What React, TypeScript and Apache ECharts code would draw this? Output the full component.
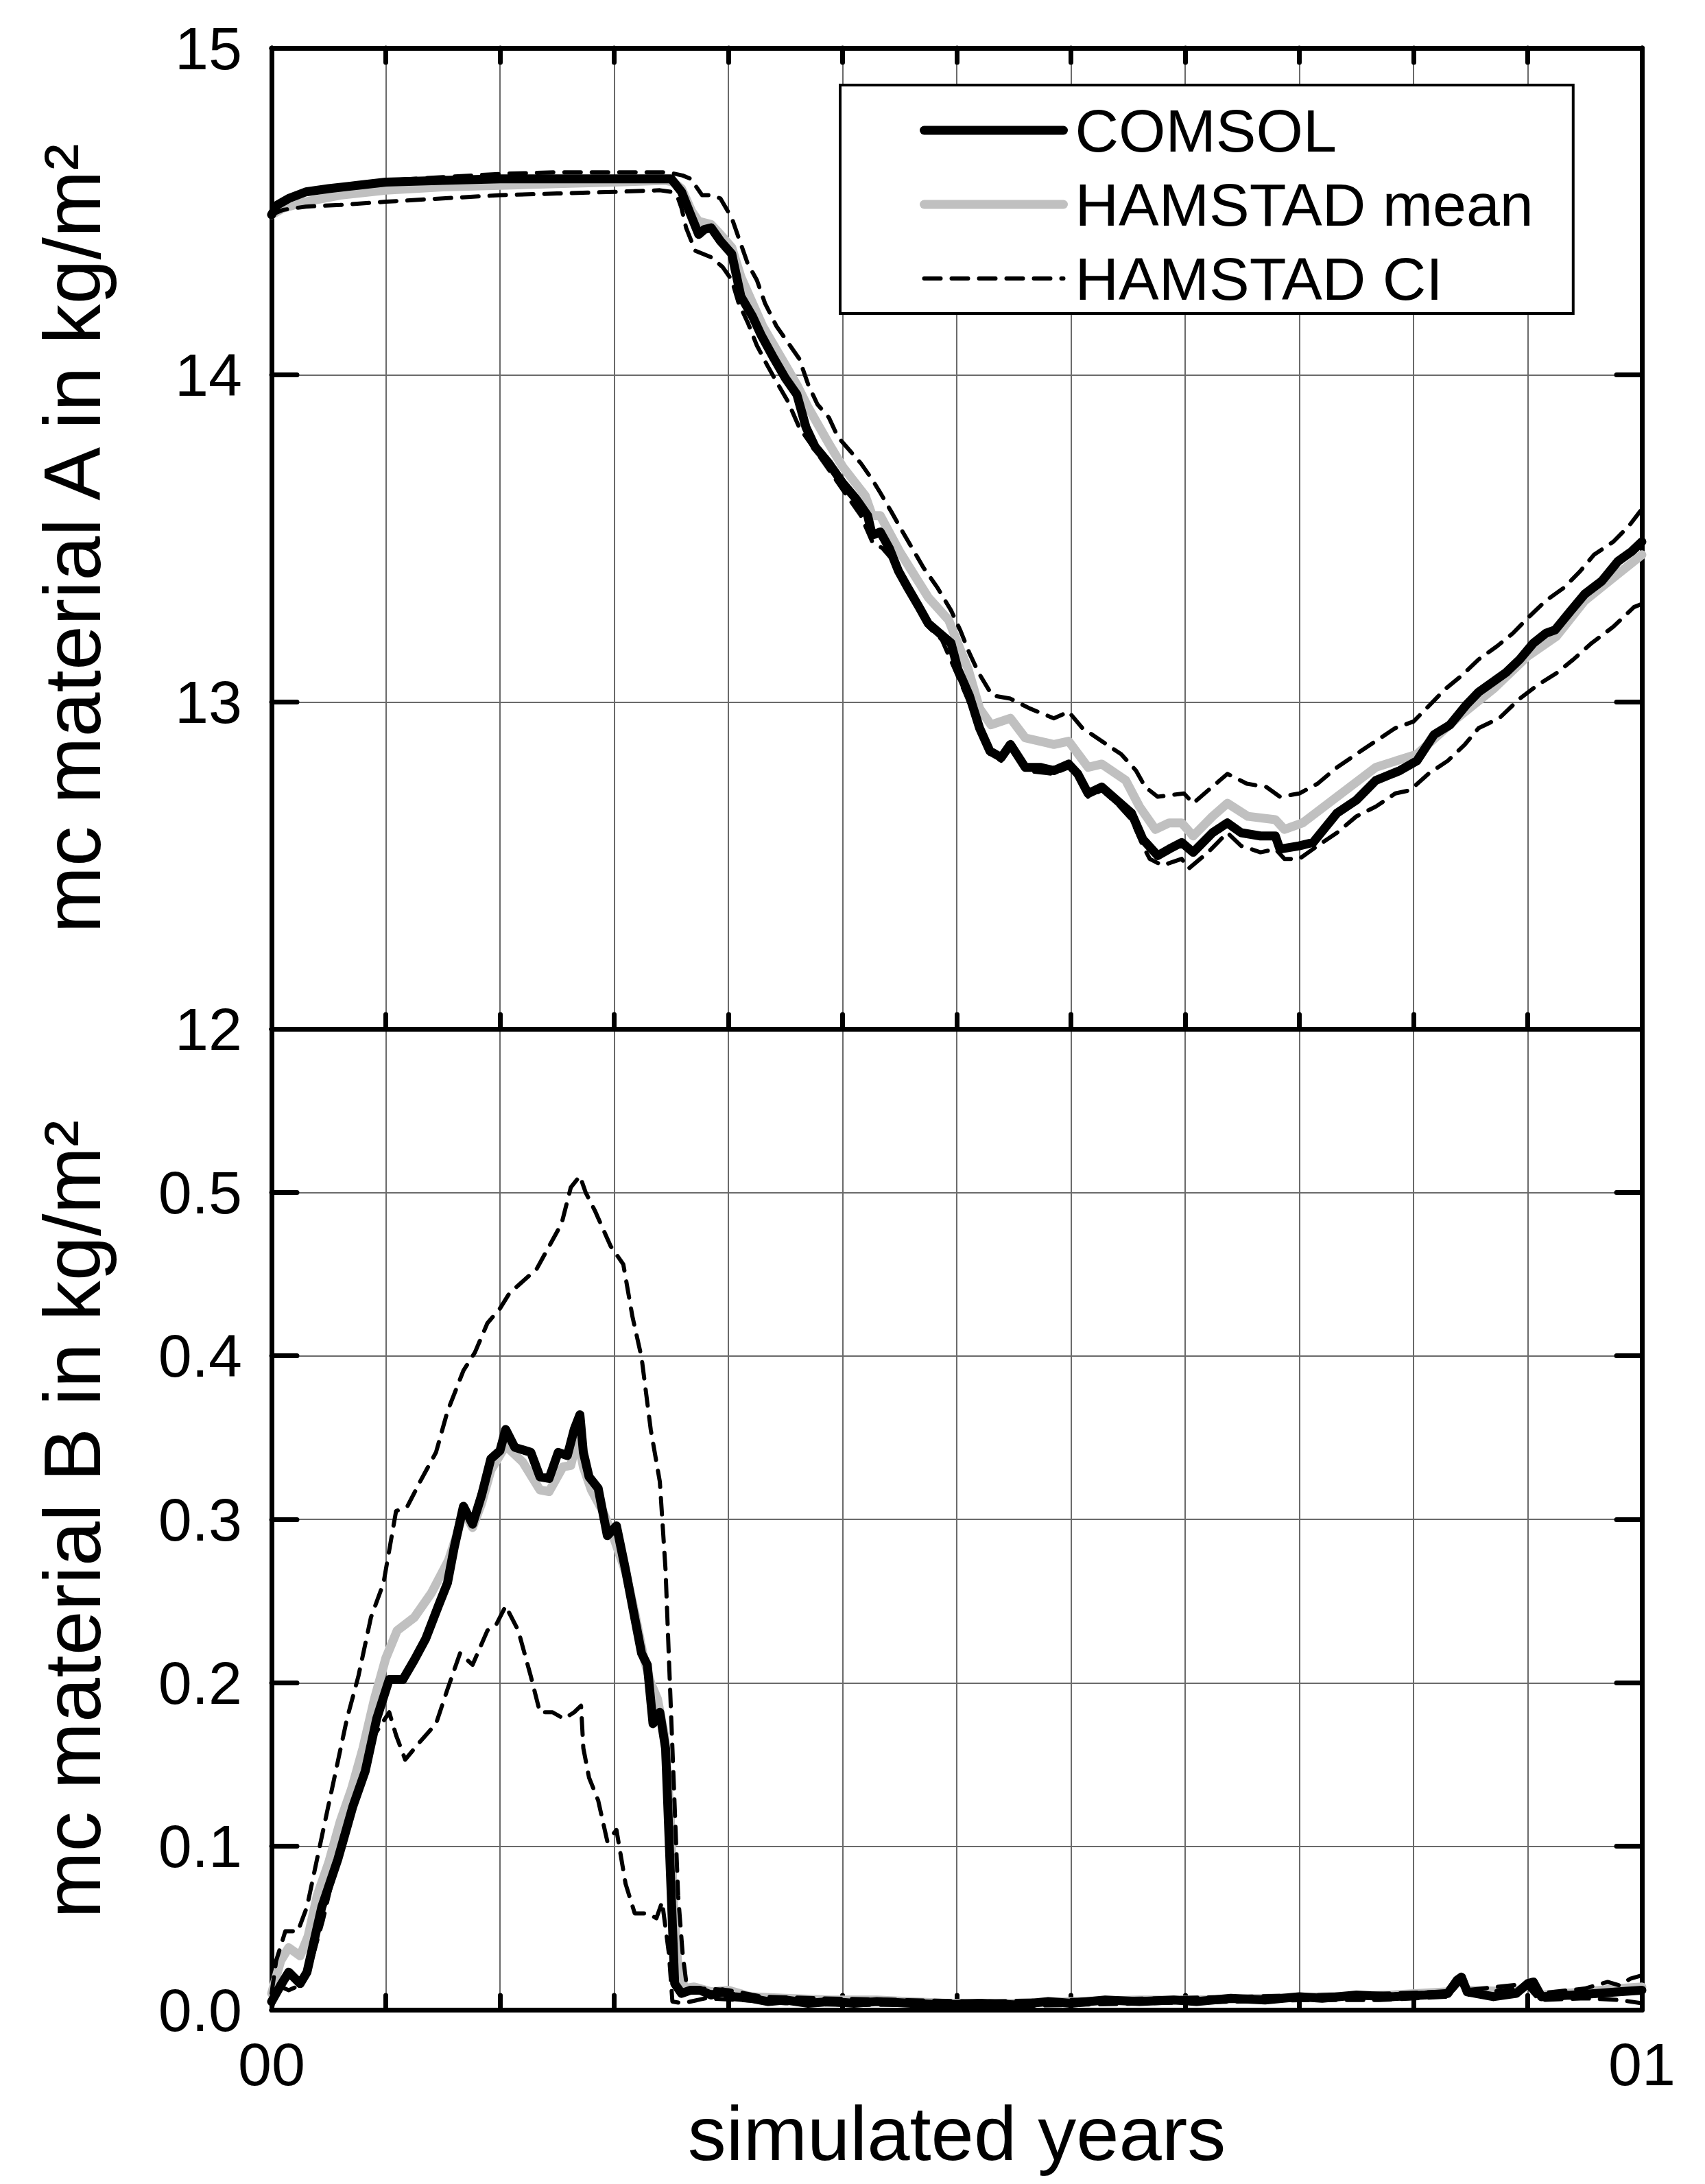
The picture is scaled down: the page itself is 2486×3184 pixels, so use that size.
import React, { useEffect, useRef } from 'react';
import * as echarts from 'echarts';

type Pt = [number, number];

// x values are months of the simulated year (0 .. 12)
const xEndLabels: Record<number, string> = { 0: '00', 12: '01' };
const seriesNames = ['COMSOL', 'HAMSTAD mean', 'HAMSTAD CI'];

// ---------- material A (top panel) ----------
const comsolA: Pt[] = [
  [0, 14.49], [0.05, 14.52], [0.15, 14.54], [0.3, 14.56], [0.5, 14.57], [0.75, 14.58], [1.0, 14.59],
  [1.5, 14.595], [2.0, 14.6], [2.5, 14.6], [3.0, 14.6], [3.5, 14.6],
  [3.59, 14.56], [3.67, 14.49], [3.74, 14.43], [3.79, 14.445], [3.85, 14.45], [3.93, 14.41], [4.03, 14.37],
  [4.11, 14.24], [4.21, 14.18], [4.29, 14.12], [4.4, 14.05], [4.5, 13.99], [4.6, 13.94], [4.68, 13.84],
  [4.76, 13.78], [4.88, 13.73], [5.0, 13.67], [5.12, 13.62], [5.22, 13.57], [5.26, 13.51], [5.33, 13.52],
  [5.41, 13.47], [5.49, 13.4], [5.57, 13.35], [5.67, 13.29], [5.75, 13.24], [5.85, 13.21], [5.95, 13.18],
  [6.01, 13.1], [6.11, 13.02], [6.2, 12.92], [6.29, 12.85], [6.39, 12.83], [6.47, 12.87], [6.6, 12.8],
  [6.73, 12.8], [6.85, 12.79], [6.98, 12.81], [7.06, 12.78], [7.15, 12.72], [7.27, 12.74], [7.4, 12.7],
  [7.53, 12.66], [7.63, 12.58], [7.76, 12.53], [7.86, 12.55], [7.97, 12.57], [8.07, 12.54], [8.24, 12.6],
  [8.37, 12.63], [8.49, 12.6], [8.66, 12.59], [8.79, 12.59], [8.83, 12.55], [9.0, 12.56], [9.12, 12.57],
  [9.33, 12.66], [9.5, 12.7], [9.67, 12.76], [9.88, 12.79], [10.03, 12.82], [10.18, 12.9], [10.32, 12.93],
  [10.46, 12.99], [10.57, 13.03], [10.69, 13.06], [10.81, 13.09], [10.93, 13.13], [11.05, 13.18],
  [11.16, 13.21], [11.24, 13.22], [11.38, 13.28], [11.5, 13.33], [11.65, 13.37], [11.79, 13.43],
  [11.91, 13.46], [12, 13.49],
];

const meanA: Pt[] = [
  [0, 14.49], [0.1, 14.51], [0.3, 14.53], [0.6, 14.55], [1.0, 14.565], [1.5, 14.575], [2.0, 14.58],
  [2.5, 14.585], [3.0, 14.59], [3.45, 14.595], [3.52, 14.59], [3.59, 14.57], [3.68, 14.5], [3.74, 14.47],
  [3.85, 14.46], [3.93, 14.43], [4.03, 14.39], [4.11, 14.3], [4.3, 14.15], [4.5, 14.03], [4.6, 13.97],
  [4.7, 13.9], [4.88, 13.79], [5.0, 13.72], [5.2, 13.63], [5.26, 13.57], [5.33, 13.57], [5.5, 13.46],
  [5.75, 13.32], [5.93, 13.25], [6.02, 13.17], [6.1, 13.1], [6.2, 12.98], [6.3, 12.93], [6.47, 12.95],
  [6.6, 12.89], [6.85, 12.87], [6.98, 12.88], [7.15, 12.8], [7.27, 12.81], [7.48, 12.76], [7.6, 12.68],
  [7.74, 12.61], [7.86, 12.63], [7.97, 12.63], [8.07, 12.59], [8.24, 12.65], [8.37, 12.69], [8.55, 12.65],
  [8.79, 12.64], [8.87, 12.61], [9.03, 12.63], [9.33, 12.71], [9.67, 12.8], [10.03, 12.84], [10.38, 12.95],
  [10.7, 13.04], [11.0, 13.14], [11.25, 13.2], [11.5, 13.31], [11.75, 13.38], [12, 13.45],
];

const ciUpperA: Pt[] = [
  [0, 14.49], [0.1, 14.53], [0.3, 14.56], [0.6, 14.58], [1.0, 14.595], [1.5, 14.605], [2.0, 14.615],
  [2.5, 14.62], [3.0, 14.62], [3.47, 14.62], [3.6, 14.61], [3.67, 14.6], [3.77, 14.55], [3.85, 14.55],
  [3.93, 14.54], [4.03, 14.48], [4.09, 14.42], [4.17, 14.34], [4.25, 14.29], [4.32, 14.22], [4.42, 14.15],
  [4.52, 14.1], [4.62, 14.05], [4.7, 13.97], [4.78, 13.91], [4.88, 13.87], [4.96, 13.81], [5.06, 13.77],
  [5.16, 13.73], [5.26, 13.68], [5.33, 13.64], [5.43, 13.58], [5.51, 13.53], [5.61, 13.47], [5.71, 13.41],
  [5.83, 13.35], [5.95, 13.28], [6.03, 13.22], [6.11, 13.15], [6.19, 13.09], [6.31, 13.02], [6.47, 13.01],
  [6.64, 12.98], [6.85, 12.95], [6.98, 12.97], [7.1, 12.92], [7.27, 12.88], [7.44, 12.84], [7.57, 12.79],
  [7.65, 12.74], [7.76, 12.71], [7.99, 12.72], [8.07, 12.69], [8.37, 12.78], [8.54, 12.75], [8.71, 12.74],
  [8.83, 12.71], [9.0, 12.72], [9.16, 12.75], [9.33, 12.8], [9.54, 12.85], [9.84, 12.92], [10.0, 12.94],
  [10.14, 12.99], [10.28, 13.04], [10.42, 13.08], [10.57, 13.13], [10.73, 13.17], [10.87, 13.21],
  [11.01, 13.26], [11.16, 13.31], [11.32, 13.35], [11.46, 13.4], [11.58, 13.45], [11.75, 13.49],
  [11.89, 13.54], [12, 13.59],
];

const ciLowerA: Pt[] = [
  [0, 14.49], [0.1, 14.505], [0.3, 14.515], [0.6, 14.52], [1.0, 14.53], [1.5, 14.54], [2.0, 14.55],
  [2.5, 14.555], [3.0, 14.56], [3.4, 14.565], [3.5, 14.56], [3.56, 14.54], [3.59, 14.51], [3.63, 14.45],
  [3.71, 14.38], [3.85, 14.36], [3.95, 14.33], [4.03, 14.29], [4.09, 14.22], [4.17, 14.16], [4.25, 14.09],
  [4.34, 14.03], [4.42, 13.98], [4.52, 13.92], [4.62, 13.84], [4.72, 13.79], [4.84, 13.73], [4.96, 13.67],
  [5.06, 13.62], [5.16, 13.57], [5.26, 13.49], [5.35, 13.47], [5.45, 13.43], [5.55, 13.36], [5.65, 13.29],
  [5.75, 13.23], [5.87, 13.19], [5.97, 13.11], [6.07, 13.03], [6.19, 12.93], [6.29, 12.84], [6.39, 12.82],
  [6.47, 12.86], [6.6, 12.79], [6.85, 12.78], [6.98, 12.8], [7.06, 12.77], [7.15, 12.71], [7.27, 12.73],
  [7.4, 12.69], [7.53, 12.64], [7.63, 12.56], [7.69, 12.52], [7.8, 12.5], [7.97, 12.52], [8.03, 12.49],
  [8.2, 12.54], [8.37, 12.6], [8.49, 12.56], [8.66, 12.54], [8.79, 12.55], [8.87, 12.52], [9.0, 12.52],
  [9.16, 12.56], [9.33, 12.6], [9.5, 12.65], [9.67, 12.68], [9.84, 12.72], [9.97, 12.73], [10.13, 12.78],
  [10.3, 12.82], [10.45, 12.87], [10.57, 12.92], [10.75, 12.95], [10.93, 13.01], [11.08, 13.05],
  [11.26, 13.09], [11.4, 13.13], [11.56, 13.18], [11.75, 13.23], [11.93, 13.29], [12, 13.3],
];

// ---------- material B (bottom panel) ----------
const comsolB: Pt[] = [
  [0, 0.005], [0.08, 0.015], [0.15, 0.023], [0.25, 0.016], [0.31, 0.023], [0.44, 0.063], [0.58, 0.092],
  [0.71, 0.124], [0.82, 0.146], [0.92, 0.178], [1.03, 0.202], [1.15, 0.202], [1.25, 0.214], [1.35, 0.227],
  [1.46, 0.247], [1.54, 0.261], [1.6, 0.283], [1.68, 0.308], [1.76, 0.297], [1.84, 0.315], [1.92, 0.337],
  [2.0, 0.342], [2.05, 0.355], [2.13, 0.344], [2.27, 0.341], [2.35, 0.326], [2.43, 0.325], [2.51, 0.341],
  [2.59, 0.339], [2.65, 0.355], [2.7, 0.364], [2.73, 0.341], [2.78, 0.326], [2.86, 0.319], [2.94, 0.29],
  [3.02, 0.296], [3.1, 0.269], [3.16, 0.247], [3.24, 0.218], [3.29, 0.211], [3.34, 0.175], [3.4, 0.182],
  [3.45, 0.16], [3.48, 0.106], [3.51, 0.052], [3.53, 0.016], [3.59, 0.01], [3.67, 0.012], [3.75, 0.012],
  [3.85, 0.009], [3.95, 0.011], [4.05, 0.008], [4.2, 0.007], [4.35, 0.005], [4.5, 0.006], [4.7, 0.004],
  [4.9, 0.005], [5.1, 0.004], [5.3, 0.005], [5.6, 0.004], [5.9, 0.003], [6.2, 0.004], [6.5, 0.003],
  [6.8, 0.005], [7.0, 0.004], [7.3, 0.006], [7.6, 0.005], [7.9, 0.006], [8.1, 0.005], [8.4, 0.007],
  [8.7, 0.006], [9.0, 0.008], [9.2, 0.007], [9.5, 0.009], [9.8, 0.008], [10.1, 0.009], [10.3, 0.01],
  [10.38, 0.018], [10.42, 0.02], [10.47, 0.011], [10.7, 0.008], [10.9, 0.01], [11.0, 0.016], [11.05, 0.017],
  [11.12, 0.008], [11.4, 0.009], [11.6, 0.01], [11.8, 0.011], [12, 0.012],
];

const meanB: Pt[] = [
  [0, 0.01], [0.08, 0.03], [0.15, 0.038], [0.25, 0.033], [0.32, 0.045], [0.4, 0.07], [0.5, 0.09],
  [0.6, 0.115], [0.7, 0.135], [0.8, 0.16], [0.9, 0.19], [1.0, 0.215], [1.1, 0.232], [1.25, 0.24],
  [1.4, 0.255], [1.55, 0.275], [1.62, 0.29], [1.68, 0.305], [1.76, 0.295], [1.84, 0.31], [1.92, 0.33],
  [2.05, 0.345], [2.2, 0.335], [2.35, 0.318], [2.43, 0.317], [2.55, 0.332], [2.62, 0.333], [2.68, 0.35],
  [2.73, 0.332], [2.8, 0.318], [2.9, 0.305], [3.0, 0.288], [3.1, 0.268], [3.18, 0.243], [3.26, 0.215],
  [3.32, 0.2], [3.38, 0.19], [3.44, 0.168], [3.49, 0.12], [3.52, 0.065], [3.56, 0.025], [3.62, 0.013],
  [3.7, 0.014], [3.85, 0.011], [4.0, 0.012], [4.2, 0.008], [4.5, 0.007], [4.9, 0.006], [5.3, 0.006],
  [5.9, 0.004], [6.5, 0.004], [7.0, 0.005], [7.6, 0.006], [8.1, 0.006], [8.7, 0.007], [9.2, 0.008],
  [9.8, 0.009], [10.3, 0.011], [10.41, 0.019], [10.47, 0.012], [10.9, 0.011], [11.03, 0.016],
  [11.12, 0.009], [11.5, 0.011], [11.8, 0.013], [12, 0.014],
];

const ciUpperB: Pt[] = [
  [0, 0.01], [0.04, 0.03], [0.12, 0.048], [0.23, 0.048], [0.31, 0.063], [0.44, 0.106], [0.55, 0.142],
  [0.66, 0.178], [0.76, 0.204], [0.87, 0.24], [0.98, 0.261], [1.09, 0.305], [1.19, 0.308], [1.3, 0.323],
  [1.44, 0.341], [1.54, 0.366], [1.68, 0.391], [1.78, 0.402], [1.89, 0.42], [2.0, 0.429], [2.08, 0.438],
  [2.19, 0.445], [2.32, 0.453], [2.43, 0.467], [2.54, 0.481], [2.62, 0.503], [2.7, 0.51], [2.75, 0.5],
  [2.83, 0.489], [2.97, 0.467], [3.08, 0.456], [3.16, 0.424], [3.24, 0.399], [3.32, 0.355], [3.4, 0.323],
  [3.45, 0.269], [3.48, 0.214], [3.52, 0.142], [3.56, 0.07], [3.6, 0.034], [3.64, 0.012], [3.8, 0.013],
  [4.0, 0.012], [4.3, 0.008], [4.8, 0.007], [5.5, 0.006], [6.2, 0.005], [7.0, 0.006], [7.8, 0.007],
  [8.5, 0.008], [9.2, 0.009], [9.8, 0.01], [10.3, 0.011], [10.41, 0.019], [10.47, 0.012], [11.0, 0.016],
  [11.1, 0.01], [11.5, 0.013], [11.7, 0.017], [11.8, 0.015], [11.9, 0.019], [12, 0.021],
];

const ciLowerB: Pt[] = [
  [0, 0.0], [0.05, 0.015], [0.15, 0.012], [0.25, 0.015], [0.35, 0.03], [0.45, 0.055], [0.55, 0.085],
  [0.66, 0.11], [0.79, 0.142], [0.9, 0.168], [1.03, 0.182], [1.09, 0.168], [1.17, 0.153], [1.3, 0.164],
  [1.44, 0.175], [1.54, 0.196], [1.65, 0.218], [1.76, 0.211], [1.89, 0.232], [1.97, 0.236], [2.05, 0.247],
  [2.16, 0.232], [2.27, 0.204], [2.35, 0.182], [2.46, 0.182], [2.56, 0.178], [2.65, 0.182], [2.71, 0.186],
  [2.73, 0.16], [2.78, 0.142], [2.86, 0.128], [2.94, 0.103], [3.02, 0.11], [3.1, 0.077], [3.18, 0.059],
  [3.29, 0.059], [3.37, 0.056], [3.42, 0.066], [3.48, 0.034], [3.51, 0.005], [3.6, 0.004], [3.8, 0.007],
  [4.1, 0.006], [4.5, 0.004], [5.0, 0.003], [5.6, 0.003], [6.3, 0.002], [7.0, 0.003], [7.7, 0.004],
  [8.4, 0.005], [9.1, 0.006], [9.7, 0.006], [10.3, 0.008], [10.41, 0.017], [10.47, 0.009], [11.0, 0.014],
  [11.1, 0.006], [11.5, 0.007], [11.8, 0.006], [12, 0.004],
];

const FONT = '"Liberation Sans", Arial, Helvetica, sans-serif';
const BLACK = '#000000';
const GREY = '#c0c0c0';
const GRIDC = '#6a6a6a';

function buildOption() {
  const axisLine = { show: true, onZero: false, lineStyle: { color: BLACK, width: 7 } };
  const xTick = { show: true, inside: true, length: 21, lineStyle: { color: BLACK, width: 7, cap: 'round' } };
  const yTick = { show: true, inside: true, length: 37, lineStyle: { color: BLACK, width: 7, cap: 'round' } };
  const split = { show: true, lineStyle: { color: GRIDC, width: 2 } };
  const xBase = { type: 'value', min: 0, max: 12, interval: 1 };

  const line = (name: string, data: Pt[], panel: number, kind: string) => {
    const style =
      kind === 'comsol'
        ? { color: BLACK, width: 13, join: 'round', cap: 'round' }
        : kind === 'mean'
        ? { color: GREY, width: 13, join: 'round', cap: 'round' }
        : { color: BLACK, width: 6, type: [24, 16], join: 'round', cap: 'round' };
    return {
      name,
      type: 'line',
      xAxisIndex: panel === 0 ? 0 : 2,
      yAxisIndex: panel === 0 ? 0 : 2,
      data,
      symbol: 'none',
      showSymbol: false,
      lineStyle: style,
      itemStyle: { color: style.color },
      emphasis: { disabled: true },
    };
  };

  return {
    animation: false,
    backgroundColor: '#ffffff',
    textStyle: { fontFamily: FONT, color: BLACK },
    grid: [
      { left: 396, top: 70, width: 1998, height: 1430 },
      { left: 396, top: 1500, width: 1998, height: 1430 },
    ],
    xAxis: [
      { ...xBase, gridIndex: 0, position: 'bottom', axisLine, axisTick: xTick, axisLabel: { show: false }, splitLine: split },
      { ...xBase, gridIndex: 0, position: 'top', axisLine, axisTick: xTick, axisLabel: { show: false }, splitLine: { show: false } },
      {
        ...xBase,
        gridIndex: 1,
        position: 'bottom',
        axisLine,
        axisTick: xTick,
        splitLine: split,
        axisLabel: {
          show: true,
          margin: 35,
          fontSize: 88,
          fontFamily: FONT,
          color: BLACK,
          showMinLabel: true,
          showMaxLabel: true,
          formatter: (v: number) => xEndLabels[v] ?? '',
        },
        name: 'simulated years',
        nameLocation: 'middle',
        nameGap: 124,
        nameTextStyle: { fontSize: 112, fontFamily: FONT, color: BLACK },
      },
      { ...xBase, gridIndex: 1, position: 'top', axisLine, axisTick: { show: false }, axisLabel: { show: false }, splitLine: { show: false } },
    ],
    yAxis: [
      {
        type: 'value',
        gridIndex: 0,
        position: 'left',
        min: 12,
        max: 15,
        interval: 1,
        axisLine,
        axisTick: yTick,
        splitLine: split,
        axisLabel: { show: true, margin: 43, fontSize: 88, fontFamily: FONT, color: BLACK, formatter: (v: number) => String(v) },
        name: 'mc material A in kg/m²',
        nameLocation: 'middle',
        nameRotate: 90,
        nameGap: 232,
        nameTextStyle: { fontSize: 117, fontFamily: FONT, color: BLACK },
      },
      { type: 'value', gridIndex: 0, position: 'right', min: 12, max: 15, interval: 1, axisLine, axisTick: yTick, axisLabel: { show: false }, splitLine: { show: false } },
      {
        type: 'value',
        gridIndex: 1,
        position: 'left',
        min: 0,
        max: 0.6,
        interval: 0.1,
        axisLine,
        axisTick: yTick,
        splitLine: split,
        axisLabel: {
          show: true,
          margin: 43,
          fontSize: 88,
          fontFamily: FONT,
          color: BLACK,
          formatter: (v: number) => (v > 0.55 ? '' : v.toFixed(1)),
        },
        name: 'mc material B in kg/m²',
        nameLocation: 'middle',
        nameRotate: 90,
        nameGap: 232,
        nameTextStyle: { fontSize: 117, fontFamily: FONT, color: BLACK },
      },
      { type: 'value', gridIndex: 1, position: 'right', min: 0, max: 0.6, interval: 0.1, axisLine, axisTick: yTick, axisLabel: { show: false }, splitLine: { show: false } },
    ],
    legend: {
      show: true,
      orient: 'vertical',
      left: 1225,
      top: 124,
      padding: [22, 58, 7, 116],
      itemGap: 20,
      itemWidth: 203,
      itemHeight: 14,
      backgroundColor: '#ffffff',
      borderColor: BLACK,
      borderWidth: 4,
      borderRadius: 0,
      selectedMode: false,
      itemStyle: { opacity: 0 },
      textStyle: { fontSize: 88, fontFamily: FONT, color: BLACK, padding: [0, 0, 0, 12] },
      data: [
        { name: seriesNames[0], lineStyle: { width: 13, cap: 'round' } },
        { name: seriesNames[1], lineStyle: { width: 13, cap: 'round' } },
        { name: seriesNames[2], lineStyle: { width: 6, cap: 'round' } },
      ],
    },
    series: [
      line(seriesNames[1], meanA, 0, 'mean'),
      line(seriesNames[1], meanB, 1, 'mean'),
      line(seriesNames[0], comsolA, 0, 'comsol'),
      line(seriesNames[0], comsolB, 1, 'comsol'),
      line(seriesNames[2], ciUpperA, 0, 'ci'),
      line(seriesNames[2], ciLowerA, 0, 'ci'),
      line(seriesNames[2], ciUpperB, 1, 'ci'),
      line(seriesNames[2], ciLowerB, 1, 'ci'),
    ],
  };
}

export default function App() {
  const ref = useRef<HTMLDivElement | null>(null);
  useEffect(() => {
    if (!ref.current) return;
    const chart = echarts.init(ref.current, undefined, { renderer: 'svg' });
    chart.setOption(buildOption() as any);
    return () => chart.dispose();
  }, []);
  return (
    <div
      ref={ref}
      style={{ position: 'absolute', left: 0, top: 0, width: 2486, height: 3184, background: '#ffffff' }}
    />
  );
}
